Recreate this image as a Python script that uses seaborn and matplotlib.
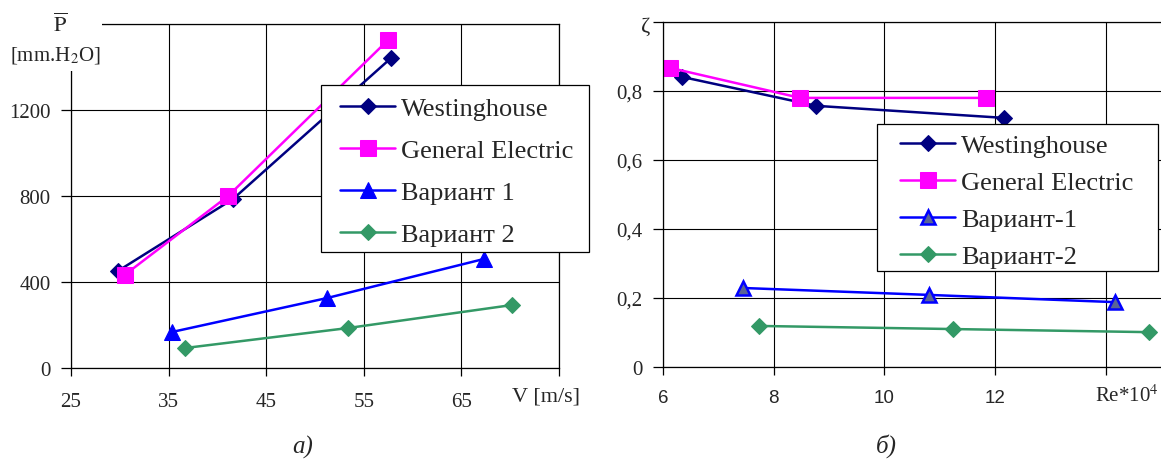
import matplotlib
matplotlib.use("Agg")
import matplotlib.pyplot as plt
import seaborn as sns
from matplotlib.patches import Rectangle
from matplotlib.ticker import FixedLocator, FixedFormatter

# ── Данные (a): давление от скорости ───────────────────────────────────────
west_v = [29.8, 41.6, 57.8]
west_p = [451, 786, 1442]
ge_v = [30.5, 41.1, 57.5]
ge_p = [433, 800, 1526]
var1_v = [35.3, 51.2, 67.3]
var1_p = [167, 325, 507]
var2_v = [36.7, 53.4, 70.2]
var2_p = [93, 186, 293]

# ── Данные (б): коэффициент сопротивления от Re ────────────────────────────
west_re = [6.34, 8.77, 12.17]
west_z = [0.841, 0.757, 0.722]
ge_re = [6.13, 8.48, 11.84]
ge_z = [0.867, 0.780, 0.780]
var1_re = [7.45, 10.8, 14.17]
var1_z = [0.229, 0.209, 0.188]
var2_re = [7.74, 11.24, 14.79]
var2_z = [0.119, 0.110, 0.101]

v_ticks = [25, 35, 45, 55, 65, 75]
v_labels = ["25", "35", "45", "55", "65", ""]
p_ticks = [0, 400, 800, 1200, 1600]
p_labels = ["0", "400", "800", "1200", ""]
re_ticks = [6, 8, 10, 12, 14]
re_labels = ["6", "8", "10", "12", ""]
z_ticks = [0, 0.2, 0.4, 0.6, 0.8, 1.0]
z_labels = ["0", "0,2", "0,4", "0,6", "0,8", ""]

NAVY = "#000080"
MAGENTA = "#FF00FF"
BLUE = "#0000FF"
GREEN = "#339966"

W, H = 1161, 460

sns.set_theme(style="white")
plt.rcParams["font.family"] = ["Liberation Serif", "DejaVu Serif"]
plt.rcParams["mathtext.fontset"] = "stix"

fig = plt.figure(figsize=(W / 100, H / 100), dpi=100)
ax1 = fig.add_axes([71 / W, 1 - 369 / H, 488 / W, 344 / H])
ax2 = fig.add_axes([663 / W, 1 - 368 / H, 498 / W, 345 / H])


def style_axes(ax):
    ax.grid(True, color="black", linewidth=0.8)
    for side in ["left", "bottom", "top", "right"]:
        ax.spines[side].set_color("black")
        ax.spines[side].set_linewidth(0.9)
    ax.tick_params(axis="both", direction="out", width=0.9, color="black",
                   bottom=True, left=True)
    ax.tick_params(axis="x", length=6, labelsize=15, pad=11)
    ax.tick_params(axis="y", length=7, labelsize=15, pad=7.5)
    ax.set_facecolor("white")
    ax.set_xlabel("")
    ax.set_ylabel("")


def px_box(x0, y0, x1, y1):
    """Рамка легенды в пикселях рисунка (от верхнего левого угла)."""
    return Rectangle((x0 / W, 1 - y1 / H), (x1 - x0) / W, (y1 - y0) / H,
                     transform=fig.transFigure, facecolor="white",
                     edgecolor="black", linewidth=0.9, zorder=2)


def move_legend(ax, x, y, spacing):
    handles, labels = ax.get_legend_handles_labels()
    ax.get_legend().remove()
    fig.legend(handles, labels, loc="upper left", bbox_to_anchor=(x / W, 1 - y / H),
               fontsize=19, frameon=False, handlelength=2.1, handletextpad=0.22,
               labelspacing=spacing, borderpad=0, borderaxespad=0)


line_kw = dict(linewidth=1.8, sort=False, estimator=None)

# ── (a) ────────────────────────────────────────────────────────────────────
sns.lineplot(x=west_v, y=west_p, ax=ax1, color=NAVY, marker="D", markersize=8,
             markeredgecolor=NAVY, label="Westinghouse", **line_kw)
sns.lineplot(x=ge_v, y=ge_p, ax=ax1, color=MAGENTA, marker="s", markersize=11,
             markeredgecolor=MAGENTA, label="General Electric", **line_kw)
sns.lineplot(x=var1_v, y=var1_p, ax=ax1, color=BLUE, marker="^", markersize=11,
             markeredgecolor=BLUE, label="Вариант 1", **line_kw)
sns.lineplot(x=var2_v, y=var2_p, ax=ax1, color=GREEN, marker="D", markersize=8,
             markeredgecolor=GREEN, label="Вариант 2", **line_kw)

style_axes(ax1)
ax1.set_xlim(25, 75)
ax1.set_ylim(0, 1600)
ax1.xaxis.set_major_locator(FixedLocator(v_ticks))
ax1.xaxis.set_major_formatter(FixedFormatter(v_labels))
ax1.yaxis.set_major_locator(FixedLocator(p_ticks))
ax1.yaxis.set_major_formatter(FixedFormatter(p_labels))
move_legend(ax1, 340, 98, 0.70)
fig.patches.append(px_box(321, 86, 589, 253))

# ── (б) ────────────────────────────────────────────────────────────────────
sns.lineplot(x=west_re, y=west_z, ax=ax2, color=NAVY, marker="D", markersize=8,
             markeredgecolor=NAVY, label="Westinghouse", **line_kw)
sns.lineplot(x=ge_re, y=ge_z, ax=ax2, color=MAGENTA, marker="s", markersize=11,
             markeredgecolor=MAGENTA, label="General Electric", **line_kw)
sns.lineplot(x=var1_re, y=var1_z, ax=ax2, color=BLUE, marker="^", markersize=10,
             markerfacecolor="#5A6496", markeredgecolor=BLUE, markeredgewidth=1.8,
             label="Вариант-1", **line_kw)
sns.lineplot(x=var2_re, y=var2_z, ax=ax2, color=GREEN, marker="D", markersize=8,
             markeredgecolor=GREEN, label="Вариант-2", **line_kw)

style_axes(ax2)
ax2.spines["right"].set_visible(False)
ax2.set_xlim(6, 15)
ax2.set_ylim(0, 1.0)
ax2.xaxis.set_major_locator(FixedLocator(re_ticks))
ax2.xaxis.set_major_formatter(FixedFormatter(re_labels))
ax2.yaxis.set_major_locator(FixedLocator(z_ticks))
ax2.yaxis.set_major_formatter(FixedFormatter(z_labels))
ax2.tick_params(axis="x", labelsize=13.5, pad=10)
for lab in ax2.get_xticklabels():
    lab.set_family(["Liberation Sans", "DejaVu Sans"])
move_legend(ax2, 900, 135, 0.51)
fig.patches.append(px_box(877, 125, 1158, 272))

# ── подписи осей ───────────────────────────────────────────────────────────
fig.patches.append(Rectangle((0, 1 - 72 / H), 102 / W, 72 / H, transform=fig.transFigure,
                             facecolor="white", edgecolor="none", zorder=2))
fig.text(60 / W, 1 - 25 / H, r"$\overline{\mathrm{P}}$", fontsize=16,
         ha="center", va="center", zorder=4)
fig.text(55 / W, 1 - 55 / H, r"[mm.H$_2$O]", fontsize=15,
         ha="center", va="center", zorder=4)
fig.text(546 / W, 1 - 397 / H, "V [m/s]", fontsize=16, ha="center", va="center")
fig.text(646 / W, 1 - 27 / H, "ζ", fontsize=16, ha="center", va="center")
fig.text(1127 / W, 1 - 396 / H, r"Re*10$^4$", fontsize=15, ha="center", va="center")
fig.text(303 / W, 1 - 447 / H, "а)", fontsize=18, style="italic",
         ha="center", va="center")
fig.text(886 / W, 1 - 446 / H, "б)", fontsize=18, style="italic",
         ha="center", va="center")

fig.savefig("out.png", dpi=100)
